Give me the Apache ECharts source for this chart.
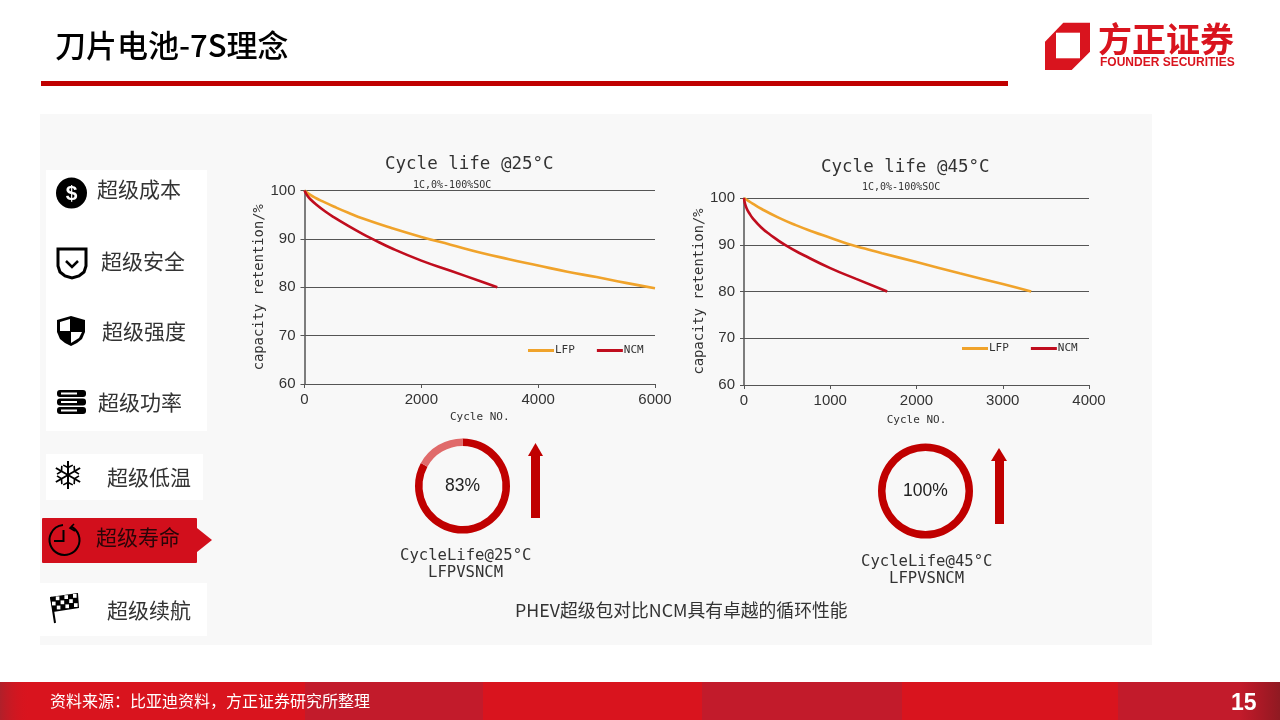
<!DOCTYPE html>
<html>
<head>
<meta charset="utf-8">
<style>html,body{margin:0;padding:0;background:#fff}#chart{width:1280px;height:720px}</style>
<script src="https://cdn.jsdelivr.net/npm/echarts@6/dist/echarts.min.js"></script>
</head>
<body>
<div id="chart"></div>
<script>
// values: [cycle, retention %]
const lfp25 = [[0,100],[100,99.1],[200,98.4],[300,97.8],[500,96.7],[750,95.4],[1000,94.2],[1500,92.2],[2000,90.4],[2500,88.8],[3000,87.2],[3500,85.8],[4000,84.5],[4500,83.2],[5000,82.1],[5500,80.9],[6000,79.8]]
const ncm25 = [[0,100],[50,98.9],[100,98.2],[200,97.1],[350,95.7],[500,94.5],[750,92.7],[1000,91],[1160,90],[1500,88],[2000,85.5],[2500,83.4],[3000,81.3],[3300,80]]
const lfp45 = [[0,100],[50,99.4],[100,98.8],[200,97.7],[400,95.8],[600,94.2],[800,92.8],[1000,91.5],[1200,90.2],[1400,89.2],[1600,88.2],[2000,86.3],[2500,83.9],[3000,81.6],[3330,80]]
const ncm45 = [[0,100],[10,98.9],[30,97.8],[60,96.8],[100,95.7],[200,93.7],[300,92.2],[480,89.9],[700,87.7],[1000,85],[1300,82.7],[1660,80]]
const ring25 = [83, 17]
const ring45 = [100]
const seriesNames = ['LFP', 'NCM']
const menuTop = ['超级成本', '超级安全', '超级强度', '超级功率']

const RED = '#c00000'
const ORANGE = '#f0a32b'
const CRIMSON = '#c00d1e'
const CJK = '"Noto Sans CJK SC"'
const MONO = '"DejaVu Sans Mono"'
const SANS = '"Liberation Sans"'

const rect = (x, y, width, height, fill, r) => ({ type: 'rect', shape: { x, y, width, height, r: r || 0 }, style: { fill } })
const poly = (points, fill) => ({ type: 'polygon', shape: { points }, style: { fill } })
const text = (str, x, y, font, size, fill, extra) => ({
  type: 'text', x, y,
  style: Object.assign({ text: str, font: `${size}px ${font}`, fill, textVerticalAlign: 'middle' }, extra)
})
const stroke = (points, width) => ({ type: 'polyline', shape: { points }, style: { fill: 'none', stroke: '#000', lineWidth: width } })

// ---- page furniture ----
const page = [
  rect(40, 114, 1112, 531, '#f8f8f8'),
  rect(41, 81, 967, 5, RED),
  text('刀片电池-7S理念', 55, 45, CJK, 31, '#000', { font: `500 31px ${CJK}` }),
  // logo
  poly([[1045,41.7],[1063.3,22.7],[1090,22.7],[1090,51.7],[1071.7,70],[1045,70]], '#d9141e'),
  poly([[1056,32.7],[1080,32.7],[1080,58.3],[1056,58.3]], '#fff'),
  text('方正证券', 1098, 39, CJK, 34, '#d9141e', { font: `700 34px ${CJK}` }),
  text('FOUNDER SECURITIES', 1100, 63, SANS, 12, '#d9141e', { font: `700 12px ${SANS}` }),
  // footer
  rect(0, 682, 1280, 38, '#d9141e'),
  rect(305, 682, 178, 38, '#c21b2b'),
  rect(702, 682, 200, 38, '#c21b2b'),
  rect(1118, 682, 162, 38, '#c21b2b'),
  { type: 'rect', shape: { x: 0, y: 682, width: 30, height: 38 }, style: { fill: new echarts.graphic.LinearGradient(0, 0, 1, 0, [{ offset: 0, color: '#b0202a' }, { offset: 1, color: 'rgba(217,20,30,0)' }]) } },
  { type: 'rect', shape: { x: 1240, y: 682, width: 40, height: 38 }, style: { fill: new echarts.graphic.LinearGradient(0, 0, 1, 0, [{ offset: 0, color: 'rgba(150,20,30,0)' }, { offset: 1, color: '#8f1a22' }]) } },
  text('资料来源：比亚迪资料，方正证券研究所整理', 50, 701, CJK, 16, '#fff'),
  text('15', 1231, 704, SANS, 23, '#fff', { font: `700 23px ${SANS}` }),
  // side menu
  rect(46, 170, 161, 261, '#fff'),
  rect(46, 454, 157, 46, '#fff'),
  rect(40, 583, 167, 53, '#fff'),
  rect(42, 518, 155, 45, '#d20f1c', 1),
  poly([[197,528],[212,540],[197,552]], '#d20f1c'),
  text(menuTop[0], 97, 189, CJK, 21, '#333'),
  text(menuTop[1], 101, 261, CJK, 21, '#333'),
  text(menuTop[2], 102, 331, CJK, 21, '#333'),
  text(menuTop[3], 98, 402, CJK, 21, '#333'),
  text('超级低温', 107, 477, CJK, 21, '#333'),
  text('超级寿命', 96, 537, CJK, 21, '#2a0508'),
  text('超级续航', 107, 610, CJK, 21, '#333'),
  // arrows and captions under the charts
  rect(531, 456, 9, 62, RED),
  poly([[528,456],[535.5,443],[543,456]], RED),
  rect(995, 461, 9, 63, RED),
  poly([[991,461],[999,448],[1007,461]], RED),
  text('CycleLife@25°C', 400, 556, MONO, 15.6, '#333'),
  text('LFPVSNCM', 428, 573, MONO, 15.6, '#333'),
  text('CycleLife@45°C', 861, 562, MONO, 15.6, '#333'),
  text('LFPVSNCM', 889, 579, MONO, 15.6, '#333'),
  text('PHEV超级包对比NCM具有卓越的循环性能', 515, 610, CJK, 17.8, '#333'),
  // dollar icon
  { type: 'circle', shape: { cx: 71.5, cy: 193, r: 15.5 }, style: { fill: '#000' } },
  text('$', 71.5, 194, SANS, 21, '#fff', { font: `700 21px ${SANS}`, textAlign: 'center' }),
  // shield outline icon
  { type: 'polygon', shape: { points: [[58,249],[86,249],[86,266],[84,272],[79,276],[72,278],[65,276],[60,272],[58,266]] }, style: { fill: 'none', stroke: '#000', lineWidth: 3 } },
  stroke([[66,261],[72,267],[78,261]], 2.5),
  // half shield icon
  poly([[57,320],[71,316],[85,320],[85,332],[82,339],[77,343],[71,346],[65,343],[60,339],[57,332]], '#000'),
  poly([[60,322],[70,319],[70,331],[60,331]], '#fff'),
  poly([[71,332],[82,332],[79,338],[71,343]], '#fff'),
  // server icon
  rect(57, 390, 29, 7, '#000', 3), rect(57, 398.5, 29, 7, '#000', 3), rect(57, 407, 29, 7, '#000', 3),
  rect(61, 392.5, 16, 2, '#fff'), rect(61, 401, 16, 2, '#fff'), rect(61, 409.5, 16, 2, '#fff'),
  // clock icon
  { type: 'arc', shape: { cx: 64.5, cy: 540, r: 15, startAngle: -Math.PI / 2 + 0.45, endAngle: -Math.PI / 2 - 0.1, clockwise: true }, style: { fill: 'none', stroke: '#000', lineWidth: 2 } },
  stroke([[63.5,530],[63.5,541],[54,541]], 2),
  stroke([[74,524],[70,528],[75,531]], 1.6),
  // flag icon
  stroke([[51,597],[55,623]], 2),
  poly([[50,597],[78,593],[79,608],[53,612]], '#000')
]

// snowflake icon
const snowflake = []
for (let i = 0; i < 6; i++) {
  const a = i * Math.PI / 3 + Math.PI / 2
  const px = (r, da) => [68 + r * Math.cos(a + da), 475 + r * Math.sin(a + da)]
  snowflake.push(stroke([px(0, 0), px(14, 0)], 2))
  snowflake.push(stroke([px(11, 0.45), px(7.5, 0), px(11, -0.45)], 1.6))
}
// flag checks
const checks = []
for (let row = 0; row < 3; row++) {
  for (let col = 0; col < 6; col++) {
    if ((row + col) % 2 === 0) continue
    checks.push(rect(51.5 + col * 4.3 + row * 0.5, 597 - col * 0.6 + row * 4.6, 3.6, 3.8, '#fff'))
  }
}

// ---- shared chart pieces ----
const xAxisOf = (gridIndex, max, interval, nameGap) => ({
  gridIndex, type: 'value', min: 0, max, interval,
  name: 'Cycle NO.', nameLocation: 'middle', nameGap,
  nameTextStyle: { fontFamily: MONO, fontSize: 11, color: '#333' },
  axisLine: { show: true, onZero: false, lineStyle: { color: '#555', width: 1 } },
  axisTick: { show: true, length: 4, lineStyle: { color: '#555' } },
  axisLabel: { fontFamily: SANS, fontSize: 15, color: '#333', margin: 8, hideOverlap: false, showMinLabel: true, showMaxLabel: true, formatter: v => String(v) },
  splitLine: { show: false }
})
const yAxisOf = (gridIndex, nameGap) => ({
  gridIndex, type: 'value', min: 60, max: 100, interval: 10,
  name: 'capacity retention/%', nameLocation: 'middle', nameGap,
  nameTextStyle: { fontFamily: MONO, fontSize: 13.8, color: '#333' },
  axisLine: { show: true, lineStyle: { color: '#555', width: 1.5 } },
  axisTick: { show: true, length: 4, lineStyle: { color: '#555' } },
  axisLabel: { fontFamily: SANS, fontSize: 15, color: '#333', margin: 9 },
  splitLine: { show: true, lineStyle: { color: '#555', width: 1 } }
})
const lineOf = (name, data, color, axisIndex) => ({
  name, type: 'line', data, xAxisIndex: axisIndex, yAxisIndex: axisIndex,
  smooth: 0.5, symbol: 'none', silent: true, z: 3,
  lineStyle: { color, width: 2.6 }, itemStyle: { color }
})
const legendOf = (left, top) => ({
  data: seriesNames, left, top, itemWidth: 26, itemHeight: 3, itemGap: 22, padding: 0, icon: 'rect',
  selectedMode: false,
  textStyle: { fontFamily: MONO, fontSize: 11, color: '#333', padding: [0, 0, 0, -4] }
})
const titleOf = (str, left, top, size) => ({
  text: str, left, top, padding: 0,
  textStyle: { fontFamily: MONO, fontSize: size, fontWeight: 'normal', color: '#333' }
})
const ringOf = (values, center, label, colors) => ({
  type: 'pie', center, radius: [40, 47.5], startAngle: 90, clockwise: true,
  silent: true, z: 3,
  data: values.map((value, i) => ({
    value, name: label + i, itemStyle: { color: colors[i] },
    label: { show: i === 0, position: 'center', formatter: label, fontFamily: SANS, fontSize: 17.5, color: '#222' }
  })),
  labelLine: { show: false }
})

const chart = echarts.init(document.getElementById('chart'))
chart.setOption({
  animation: false,
  title: [
    titleOf('Cycle life @25°C', 385, 155, 17.5),
    titleOf('1C,0%-100%SOC', 413, 180, 10),
    titleOf('Cycle life @45°C', 821, 158, 17.5),
    titleOf('1C,0%-100%SOC', 862, 182, 10)
  ],
  legend: [legendOf(528, 345), legendOf(962, 343)],
  grid: [
    { left: 304.5, top: 190.5, width: 350.5, height: 193.5 },
    { left: 744, top: 198, width: 345, height: 187 }
  ],
  xAxis: [xAxisOf(0, 6000, 2000, 28), xAxisOf(1, 4000, 1000, 30)],
  yAxis: [yAxisOf(0, 37), yAxisOf(1, 36)],
  series: [
    lineOf(seriesNames[0], lfp25, ORANGE, 0),
    lineOf(seriesNames[1], ncm25, CRIMSON, 0),
    lineOf(seriesNames[0], lfp45, ORANGE, 1),
    lineOf(seriesNames[1], ncm45, CRIMSON, 1),
    ringOf(ring25, [462.5, 486], '83%', [RED, '#e06a6a']),
    ringOf(ring45, [925.5, 491], '100%', [RED])
  ],
  graphic: { elements: page.concat(snowflake, checks) }
})
</script>
</body>
</html>
